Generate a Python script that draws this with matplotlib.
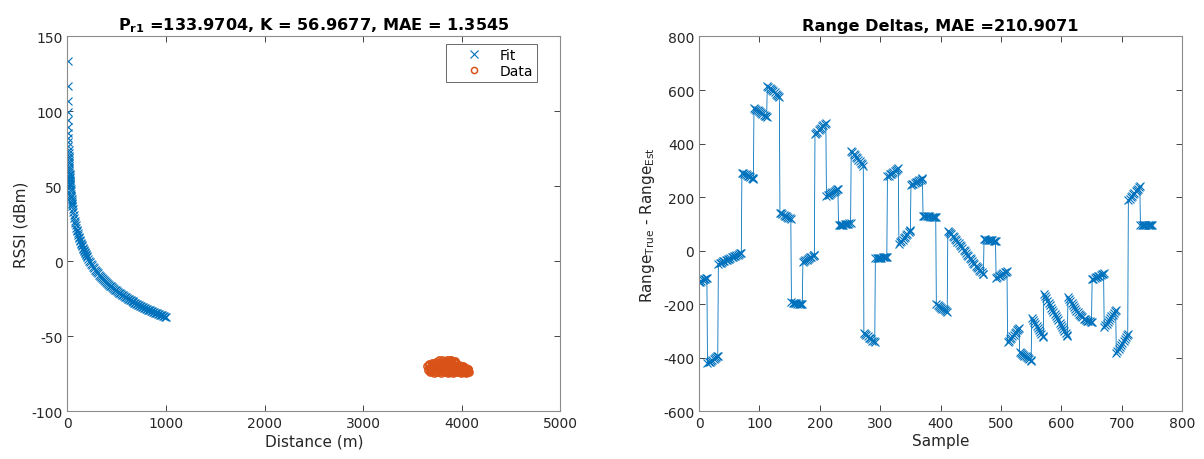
import matplotlib
matplotlib.use("Agg")
import matplotlib.pyplot as plt

# ---------------- Left panel data ----------------
P_r1 = 133.9704
K = 56.9677
MAE_fit = 1.3545

fit_distance = [1, 2, 3, 4, 5, 6, 7, 8, 9, 10, 11, 12, 13, 14, 15, 16, 17, 18, 19, 20,
                21, 22, 23, 24, 25, 26, 27, 28, 29, 30,
                32, 34, 36, 38, 40, 42, 44, 46, 48, 50,
                55, 60, 65, 70, 75, 80, 85, 90, 95, 100,
                105, 110, 115, 120, 125, 130, 135, 140, 145, 150,
                155, 160, 165, 170, 175, 180, 185, 190, 195, 200,
                210, 220, 230, 240, 250, 260, 270, 280, 290, 300,
                310, 320, 330, 340, 350, 360, 370, 380, 390, 400,
                410, 420, 430, 440, 450, 460, 470, 480, 490, 500,
                510, 520, 530, 540, 550, 560, 570, 580, 590, 600,
                610, 620, 630, 640, 650, 660, 670, 680, 690, 700,
                710, 720, 730, 740, 750, 760, 770, 780, 790, 800,
                810, 820, 830, 840, 850, 860, 870, 880, 890, 900,
                910, 920, 930, 940, 950, 960, 970, 980, 990, 1000]
fit_rssi = [133.97, 116.82, 106.79, 99.67, 94.15, 89.64, 85.83, 82.52, 79.61, 77.00,
            74.64, 72.49, 70.51, 68.68, 66.97, 65.37, 63.87, 62.46, 61.12, 59.85,
            58.65, 57.50, 56.40, 55.34, 54.33, 53.36, 52.43, 51.53, 50.66, 49.82,
            48.23, 46.73, 45.31, 43.97, 42.71, 41.50, 40.35, 39.25, 38.19, 37.18,
            34.83, 32.67, 30.69, 28.86, 27.15, 25.56, 24.06, 22.64, 21.30, 20.04,
            18.83, 17.68, 16.58, 15.52, 14.51, 13.54, 12.61, 11.71, 10.84, 10.00,
            9.19, 8.41, 7.65, 6.91, 6.19, 5.49, 4.82, 4.16, 3.51, 2.89,
            1.68, 0.53, -0.57, -1.62, -2.64, -3.60, -4.54, -5.44, -6.31, -7.15,
            -7.96, -8.74, -9.50, -10.24, -10.96, -11.66, -12.33, -12.99, -13.64, -14.26,
            -14.87, -15.47, -16.05, -16.62, -17.18, -17.72, -18.25, -18.77, -19.28, -19.78,
            -20.27, -20.75, -21.23, -21.69, -22.14, -22.59, -23.03, -23.46, -23.88, -24.29,
            -24.70, -25.11, -25.50, -25.89, -26.28, -26.65, -27.02, -27.39, -27.75, -28.11,
            -28.46, -28.81, -29.15, -29.48, -29.82, -30.14, -30.47, -30.79, -31.10, -31.41,
            -31.72, -32.02, -32.32, -32.62, -32.91, -33.20, -33.49, -33.77, -34.05, -34.33,
            -34.60, -34.87, -35.14, -35.40, -35.66, -35.92, -36.18, -36.43, -36.68, -36.93]

data_distance = [3650, 3660, 3665, 3680, 3690, 3700, 3710, 3720, 3725, 3740, 3745, 3755,
                 3770, 3775, 3780, 3790, 3800, 3805, 3815, 3820, 3830, 3840, 3850, 3855,
                 3860, 3870, 3875, 3885, 3890, 3900, 3905, 3915, 3920, 3930, 3935, 3945,
                 3955, 3960, 3970, 3980, 3990, 4000, 4010, 4020, 4030, 4040, 4050, 4060,
                 4070, 4075, 3735, 3795, 3865, 3895, 3925, 3985, 4045, 3810, 3845, 3760,
                 3670, 3700, 3730, 3785, 3825, 3880, 3910, 3950, 4005, 4025, 4055, 3685,
                 3835, 3870, 3940, 4015, 4065, 3715, 3750, 3790,
                 3670, 3680, 3695, 3705, 3720, 3730, 3740, 3750, 3765, 3770,
                 3785, 3800, 3810, 3820, 3830, 3835, 3850, 3855, 3865, 3875,
                 3880, 3890, 3900, 3910, 3920, 3930, 3940, 3950, 3965, 3975,
                 3990, 4000, 4010, 4020, 4035, 4045, 4060, 4070, 3690, 3760]
data_rssi = [-70.0, -72.5, -68.5, -74.0, -70.5, -67.8, -72.0, -74.5, -69.0, -71.0, -67.0, -73.5,
             -66.0, -69.5, -72.5, -74.5, -65.5, -68.0, -71.0, -73.8, -66.5, -69.0, -65.6, -72.0,
             -74.6, -67.5, -70.5, -66.0, -73.0, -68.5, -71.5, -74.3, -67.0, -69.8, -72.8, -68.0,
             -70.8, -73.5, -69.0, -72.0, -74.4, -70.0, -71.8, -73.8, -70.5, -72.5, -74.5, -71.5,
             -73.0, -74.0, -73.0, -70.5, -69.5, -65.8, -71.0, -70.3, -70.8, -66.8, -73.4, -69.5,
             -71.0, -73.2, -70.0, -67.5, -68.5, -71.8, -66.5, -72.2, -73.0, -71.0, -72.8, -72.3,
             -70.2, -73.8, -70.5, -70.2, -72.0, -69.2, -71.8, -68.8,
             -69.0, -71.5, -73.0, -69.5, -71.0, -68.0, -73.8, -70.0, -72.0, -68.2,
             -66.8, -72.5, -69.5, -67.5, -72.8, -68.2, -70.5, -67.2, -72.5, -66.2,
             -68.8, -70.8, -73.5, -69.2, -72.5, -66.6, -73.8, -69.8, -72.3, -70.2,
             -71.8, -73.6, -69.8, -72.0, -73.6, -71.9, -73.8, -72.0, -72.3, -73.8]

# ---------------- Right panel data ----------------
MAE_range = 210.9071
sample = [0, 2, 4, 6, 8, 10, 12, 13,
          14, 16, 18, 20, 22, 24, 26, 28, 30, 31,
          32, 34, 36, 38, 40, 42, 44, 46, 48, 50, 52, 54, 56, 58, 60, 62, 64, 66, 68, 70,
          71, 73, 75, 77, 79, 81, 83, 85, 87, 89, 90,
          91, 93, 95, 97, 99, 101, 103, 105, 107, 109, 111, 112,
          113, 115, 117, 119, 121, 123, 125, 127, 129, 131, 133,
          134, 136, 138, 140, 142, 144, 146, 148, 150, 152,
          153, 155, 157, 159, 161, 163, 165, 167, 169, 171,
          172, 174, 176, 178, 180, 182, 184, 186, 188, 190, 191,
          192, 194, 196, 198, 200, 202, 204, 206, 208, 210,
          211, 213, 215, 217, 219, 221, 223, 225, 227, 229, 230,
          231, 233, 235, 237, 239, 241, 243, 245, 247, 249, 251,
          252, 254, 256, 258, 260, 262, 264, 266, 268, 270, 272,
          273, 275, 277, 279, 281, 283, 285, 287, 289, 291,
          292, 294, 296, 298, 300, 302, 304, 306, 308, 310, 311,
          312, 314, 316, 318, 320, 322, 324, 326, 328, 330,
          331, 333, 335, 337, 339, 341, 343, 345, 347, 349, 350,
          351, 353, 355, 357, 359, 361, 363, 365, 367, 369, 370,
          371, 373, 375, 377, 379, 381, 383, 385, 387, 389, 391, 392,
          393, 395, 397, 399, 401, 403, 405, 407, 409, 411,
          412, 414, 416, 418, 420, 422, 424, 426, 428, 430, 432, 434, 436, 438, 440,
          442, 444, 446, 448, 450, 452, 454, 456, 458, 460, 462, 464, 466, 468, 470, 471,
          472, 474, 476, 478, 480, 482, 484, 486, 488, 490, 491,
          492, 494, 496, 498, 500, 502, 504, 506, 508, 510,
          511, 513, 515, 517, 519, 521, 523, 525, 527, 529, 530,
          531, 533, 535, 537, 539, 541, 543, 545, 547, 549, 550,
          551, 553, 555, 557, 559, 561, 563, 565, 567, 569, 570,
          571, 573, 575, 577, 579, 581, 583, 585, 587, 589,
          591, 593, 595, 597, 599, 601, 603, 605, 607, 609, 610,
          611, 613, 615, 617, 619, 621, 623, 625, 627, 629,
          631, 633, 635, 637, 639, 641, 643, 645, 647, 649, 650,
          651, 653, 655, 657, 659, 661, 663, 665, 667, 669, 670,
          671, 673, 675, 677, 679, 681, 683, 685, 687, 689, 690,
          691, 693, 695, 697, 699, 701, 703, 705, 707, 709, 710,
          711, 713, 715, 717, 719, 721, 723, 725, 727, 729, 730,
          731, 733, 735, 737, 739, 741, 743, 745, 747, 749, 750]
range_delta = [-118, -115, -113, -110, -107, -104, -102, -100,
               -420, -417, -414, -410, -407, -404, -400, -397, -394, -392,
               -48, -46, -44, -42, -40, -38, -36, -33, -31, -29, -27, -25, -22, -20, -18, -16, -14, -12, -10, -8,
               292, 290, 287, 285, 283, 280, 278, 275, 272, 270, 268,
               532, 529, 527, 524, 521, 517, 514, 511, 508, 505, 502, 500,
               615, 611, 608, 604, 600, 596, 592, 587, 583, 579, 575,
               142, 140, 137, 134, 131, 128, 125, 123, 121, 118,
               -193, -194, -195, -195, -196, -197, -198, -198, -199, -200,
               -42, -39, -36, -34, -31, -28, -25, -22, -20, -17, -15,
               435, 440, 445, 450, 455, 459, 464, 469, 473, 478,
               205, 208, 210, 213, 216, 218, 221, 224, 226, 229, 230,
               95, 96, 97, 97, 98, 99, 100, 100, 101, 102, 103,
               372, 367, 362, 356, 351, 345, 340, 334, 329, 323, 318,
               -308, -312, -316, -320, -324, -327, -331, -335, -338, -342,
               -27, -27, -27, -26, -26, -26, -25, -25, -25, -24, -24,
               278, 281, 285, 288, 292, 295, 298, 301, 305, 308,
               25, 31, 36, 42, 47, 53, 58, 64, 69, 75, 78,
               245, 248, 250, 253, 256, 258, 261, 264, 266, 269, 270,
               129, 129, 128, 128, 128, 128, 127, 127, 127, 126, 126, 126,
               -200, -203, -206, -209, -213, -216, -219, -222, -225, -228,
               75, 71, 66, 61, 56, 51, 45, 40, 34, 28, 22, 16, 10, 4, -2,
               -8, -14, -20, -26, -32, -38, -44, -50, -56, -61, -66, -71, -76, -80, -85, -88,
               44, 43, 42, 42, 41, 40, 40, 39, 38, 37, 37,
               -102, -99, -96, -93, -90, -87, -84, -81, -78, -75,
               -340, -335, -329, -324, -318, -313, -307, -302, -296, -291, -288,
               -378, -381, -384, -388, -391, -394, -398, -401, -404, -408, -410,
               -250, -258, -265, -273, -280, -288, -295, -303, -310, -318, -322,
               -162, -170, -178, -187, -195, -203, -212, -220, -228, -236,
               -244, -252, -260, -268, -276, -284, -292, -300, -308, -316, -320,
               -172, -180, -188, -196, -203, -210, -217, -223, -229, -235,
               -240, -245, -249, -253, -256, -259, -261, -263, -264, -265, -265,
               -106, -104, -101, -99, -97, -95, -93, -90, -88, -86, -84,
               -284, -278, -272, -265, -258, -251, -245, -238, -232, -225, -220,
               -380, -373, -366, -359, -352, -344, -337, -330, -323, -315, -310,
               190, 195, 200, 206, 211, 216, 222, 227, 232, 237, 240,
               97, 97, 97, 98, 98, 98, 98, 97, 97, 98, 98]

assert len(fit_distance) == len(fit_rssi)
assert len(data_distance) == len(data_rssi)
assert len(sample) == len(range_delta), (len(sample), len(range_delta))

BLUE = '#0072BD'
ORANGE = '#D95319'
AX_COLOR = '#262626'
SPINE_COLOR = '#8c8c8c'

plt.rcParams['font.family'] = ['DejaVu Sans']
plt.rcParams['mathtext.fontset'] = 'dejavusans'
plt.rcParams['axes.unicode_minus'] = False

fig = plt.figure(figsize=(12.04, 4.60), dpi=100)
ax1 = fig.add_axes([0.05606, 0.1033, 0.4091, 0.8152])
ax2 = fig.add_axes([0.5806, 0.1033, 0.4012, 0.8152])


def style(ax):
    for s in ax.spines.values():
        s.set_color(SPINE_COLOR)
        s.set_linewidth(0.8)
    ax.tick_params(direction='in', length=4, width=0.6, color=AX_COLOR,
                   labelcolor=AX_COLOR, labelsize=10, top=True, right=True)


ax1.plot(fit_distance, fit_rssi, linestyle='none', marker='x', color=BLUE,
         markersize=6, markeredgewidth=0.8, label='Fit')
ax1.plot(data_distance, data_rssi, linestyle='none', marker='o', color=ORANGE,
         markerfacecolor='none', markersize=5.2, markeredgewidth=1.1, label='Data')
ax1.set_xlim(0, 5000)
ax1.set_ylim(-100, 150)
ax1.set_xticks([0, 1000, 2000, 3000, 4000, 5000])
ax1.set_yticks([-100, -50, 0, 50, 100, 150])
ax1.set_xlabel('Distance (m)', fontsize=11, color=AX_COLOR, labelpad=2)
ax1.set_ylabel('RSSI (dBm)', fontsize=11, color=AX_COLOR, labelpad=2)
ax1.set_title(r'$\mathbf{P}_{\mathbf{r1}}$ =%.4f, K = %.4f, MAE = %.4f' % (P_r1, K, MAE_fit),
              fontsize=11.6, fontweight='bold', color='black', pad=5)
style(ax1)
leg = ax1.legend(loc='upper right', bbox_to_anchor=(0.953, 0.981), borderaxespad=0,
                 fontsize=10, frameon=True, fancybox=False, edgecolor=AX_COLOR,
                 handlelength=3.4, handletextpad=0.1, borderpad=0.3, labelspacing=0.15,
                 markerscale=0.85)
leg.get_frame().set_linewidth(0.6)
for t in leg.get_texts():
    t.set_color('black')

ax2.plot(sample, range_delta, linestyle='-', linewidth=0.6, marker='x', color=BLUE,
         markersize=6, markeredgewidth=0.8)
ax2.set_xlim(0, 800)
ax2.set_ylim(-600, 800)
ax2.set_xticks(range(0, 801, 100))
ax2.set_yticks(range(-600, 801, 200))
ax2.set_xlabel('Sample', fontsize=11, color=AX_COLOR, labelpad=2)
ax2.set_ylabel(r'Range$_{\mathrm{True}}$ - Range$_{\mathrm{Est}}$', fontsize=11,
               color=AX_COLOR, labelpad=4)
ax2.set_title('Range Deltas, MAE =%.4f' % MAE_range, fontsize=11.6, fontweight='bold',
              color='black', pad=5)
style(ax2)

fig.savefig('out.png', dpi=100, facecolor='white')
